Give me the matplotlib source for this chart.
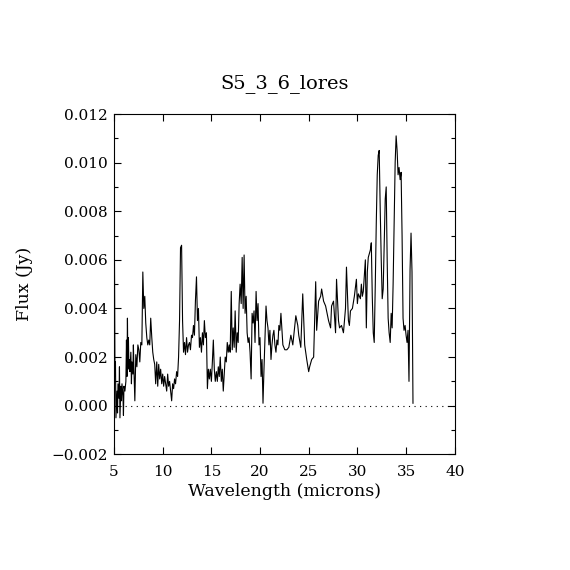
import matplotlib
matplotlib.use("Agg")
import matplotlib.pyplot as plt
from matplotlib.ticker import MultipleLocator, FuncFormatter

# spectrum (wavelength in microns, flux in mJy)
wave = [5.05, 5.10, 5.15, 5.20, 5.31, 5.36, 5.41, 5.51, 5.56, 5.61, 5.71, 5.77, 5.82, 5.92, 5.97,
        6.02, 6.12, 6.22, 6.28, 6.33, 6.38, 6.43, 6.48, 6.53, 6.58, 6.63, 6.73, 6.79, 6.84, 6.94,
        6.99, 7.04, 7.14, 7.24, 7.35, 7.45, 7.55, 7.65, 7.75, 7.86, 7.96, 8.06, 8.16, 8.26, 8.37,
        8.47, 8.57, 8.67, 8.77, 8.88, 8.98, 9.08, 9.18, 9.28, 9.39, 9.49, 9.59, 9.69, 9.79, 9.90,
        10.00, 10.10, 10.20, 10.30, 10.41, 10.51, 10.61, 10.71, 10.81, 10.92, 11.02, 11.12, 11.22,
        11.32, 11.43, 11.53, 11.63, 11.73, 11.83, 11.94, 12.04, 12.14, 12.24, 12.34, 12.45, 12.55,
        12.65, 12.75, 12.85, 12.96, 13.06, 13.16, 13.26, 13.36, 13.47, 13.57, 13.67, 13.77, 13.87,
        13.98, 14.08, 14.18, 14.28, 14.38, 14.49, 14.59, 14.69, 14.79, 14.89, 15.00, 15.10, 15.20,
        15.30, 15.40, 15.51, 15.61, 15.71, 15.81, 15.91, 16.02, 16.12, 16.22, 16.32, 16.42, 16.53,
        16.63, 16.73, 16.83, 16.93, 17.04, 17.14, 17.24, 17.34, 17.44, 17.55, 17.65, 17.75, 17.85,
        17.95, 18.06, 18.16, 18.26, 18.36, 18.46, 18.57, 18.67, 18.77, 18.87, 18.97, 19.08, 19.18,
        19.28, 19.38, 19.48, 19.59, 19.69, 19.79, 19.89, 19.99, 20.10, 20.20, 20.30, 20.40, 20.50,
        20.61, 20.71, 20.81, 20.91, 21.01, 21.12, 21.22, 21.32, 21.42, 21.52, 21.63, 21.73, 21.83,
        21.93, 22.03, 22.14, 22.34, 22.54, 22.75, 22.95, 23.16, 23.36, 23.56, 23.67, 23.87, 23.97,
        24.18, 24.38, 24.58, 24.79, 24.99, 25.09, 25.30, 25.50, 25.71, 25.81, 26.01, 26.22, 26.32,
        26.52, 26.73, 26.93, 27.03, 27.24, 27.34, 27.54, 27.75, 27.85, 28.05, 28.16, 28.36, 28.56,
        28.77, 28.87, 29.07, 29.17, 29.28, 29.48, 29.68, 29.89, 29.99, 30.09, 30.30, 30.40, 30.50,
        30.60, 30.81, 30.91, 31.01, 31.11, 31.32, 31.42, 31.52, 31.62, 31.72, 31.83, 31.93, 32.03,
        32.13, 32.23, 32.34, 32.44, 32.54, 32.64, 32.74, 32.85, 32.95, 33.05, 33.15, 33.25, 33.36,
        33.46, 33.56, 33.66, 33.76, 33.87, 33.97, 34.07, 34.17, 34.27, 34.38, 34.48, 34.58, 34.68,
        34.78, 34.89, 34.99, 35.09, 35.19, 35.29, 35.40, 35.50, 35.60, 35.70]

flux_mjy = [5.9, 1.2, 1.8, -0.5, 0.6, -0.3, 0.9, 0.3, 1.6, -0.5, 0.8, 0.2, 0.9, 0.4, -0.4,
            0.8, 0.6, 1.0, 2.7, 1.2, 3.6, 1.5, 2.8, 1.6, 1.9, 1.4, 2.2, 0.9, 1.8, 1.3,
            2.5, 1.6, 0.2, 2.1, 1.6, 2.5, 2.3, 1.8, 2.6, 2.5, 5.5, 4.0, 4.5, 3.4, 2.8,
            2.5, 2.7, 2.5, 3.6, 2.8, 2.2, 1.9, 1.7, 0.9, 1.8, 0.8, 1.7, 1.1, 1.5, 0.9,
            1.3, 0.8, 1.2, 0.9, 0.6, 1.3, 0.8, 1.0, 0.6, 0.2, 0.9, 0.7, 1.1,
            0.9, 1.4, 1.2, 2.0, 3.5, 6.5, 6.6, 3.5, 2.2, 2.6, 2.1, 2.8, 2.2,
            2.5, 2.6, 2.3, 2.9, 2.8, 3.3, 2.9, 4.3, 5.3, 3.5, 4.0, 2.4, 2.8,
            2.2, 3.0, 2.5, 3.5, 2.8, 3.0, 0.7, 1.5, 1.1, 1.5, 1.0, 1.8, 2.7,
            1.5, 1.0, 1.4, 1.0, 1.6, 1.2, 2.0, 1.0, 1.5, 0.6, 1.3, 2.0, 1.8,
            2.6, 2.2, 2.5, 2.2, 4.7, 2.3, 3.2, 2.4, 3.9, 2.2, 3.0, 2.6, 4.2,
            5.0, 4.2, 6.1, 4.0, 6.2, 3.8, 4.5, 3.0, 2.6, 2.8, 2.2, 1.1, 3.8,
            3.4, 3.9, 2.6, 4.7, 3.5, 4.2, 2.5, 2.8, 1.2, 1.9, 0.1, 1.5, 2.7,
            4.1, 3.5, 3.2, 2.5, 3.1, 1.9, 2.5, 2.9, 3.1, 2.5, 2.2, 2.7, 2.5,
            3.3, 3.1, 3.8, 2.5, 2.3, 2.3, 2.4, 2.9, 2.5, 3.3, 3.7, 3.3, 2.9,
            2.4, 4.6, 2.5, 1.9, 1.4, 1.6, 1.9, 2.0, 5.1, 3.1, 4.3, 4.5, 4.8,
            4.3, 4.1, 3.7, 3.5, 3.2, 4.1, 4.3, 3.0, 5.2, 3.5, 3.2, 3.3, 3.0,
            4.0, 5.7, 3.5, 3.3, 3.9, 4.0, 4.5, 5.2, 4.2, 4.6, 4.4, 5.0, 4.5,
            4.7, 6.0, 3.2, 5.5, 6.1, 6.4, 6.7, 4.5, 3.0, 2.6, 5.0, 7.5, 9.5,
            10.3, 10.5, 8.0, 6.0, 4.4, 4.8, 6.5, 8.5, 9.0, 6.0, 3.6, 3.0, 2.6,
            3.8, 3.2, 5.0, 7.5, 10.0, 11.1, 10.5, 9.5, 9.8, 9.3, 9.6, 7.0, 3.6,
            3.1, 3.3, 2.9, 2.6, 3.1, 1.0, 5.6, 7.1, 5.5, 0.1]

flux = [v / 1000.0 for v in flux_mjy]

plt.rcParams["font.family"] = ["DejaVu Serif"]

fig = plt.figure(figsize=(5.7, 5.7), dpi=100)
ax = fig.add_axes([0.2, 0.203, 0.598, 0.597])

ax.plot(wave, flux, color="black", lw=0.8)
ax.axhline(0.0, color="black", lw=0.8, ls=(0, (1, 4)))

ax.set_xlim(5, 40)
ax.set_ylim(-0.002, 0.012)
ax.xaxis.set_major_locator(MultipleLocator(5))
ax.yaxis.set_major_locator(MultipleLocator(0.002))
ax.yaxis.set_minor_locator(MultipleLocator(0.001))
ax.yaxis.set_major_formatter(FuncFormatter(lambda v, p: ("%.3f" % v).replace("-", "\u2212")))
ax.tick_params(which="both", direction="in", top=True, right=True, labelsize=11, width=0.8)
ax.tick_params(which="major", length=5)
ax.tick_params(which="minor", length=3)
ax.tick_params(axis="x", pad=8)
ax.tick_params(axis="y", pad=4.5)
for s in ax.spines.values():
    s.set_linewidth(0.8)

ax.set_xlabel("Wavelength (microns)", fontsize=12.5)
ax.set_ylabel("Flux (Jy)", fontsize=12.5)
ax.xaxis.set_label_coords(0.5, -0.085)
ax.yaxis.set_label_coords(-0.2375, 0.5)
fig.text(0.499, 1 - 84 / 570, "S5_3_6_lores", fontsize=14, ha="center", va="center")

fig.savefig("out.png", dpi=100)
